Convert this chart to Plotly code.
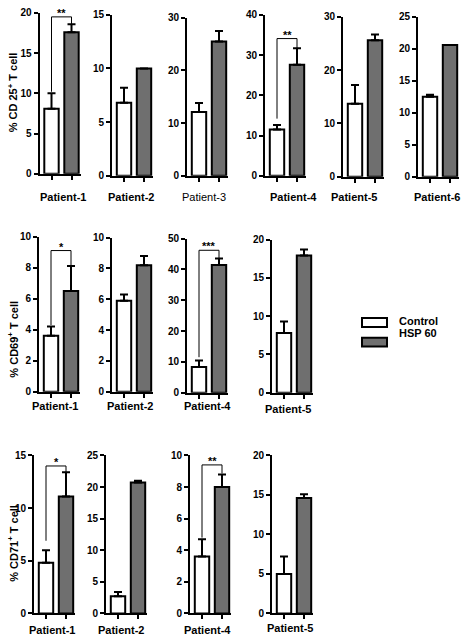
import plotly.graph_objects as go

# ---------------- data ----------------
cd25_patients = ["Patient-1", "Patient-2", "Patient-3", "Patient-4", "Patient-5", "Patient-6"]
cd25_control = [8.1, 6.8, 12.1, 11.5, 13.7, 12.5]
cd25_control_err = [1.9, 1.4, 1.7, 1.1, 3.5, 0.3]
cd25_hsp = [17.6, 10.0, 25.5, 27.6, 25.6, 20.6]
cd25_hsp_err = [1.0, 0.0, 2.0, 4.1, 1.1, 0.0]
cd25_ymax = [20, 15, 30, 40, 30, 25]
cd25_dtick = [5, 5, 10, 10, 10, 5]

cd69_patients = ["Patient-1", "Patient-2", "Patient-4", "Patient-5"]
cd69_control = [3.6, 5.9, 8.3, 7.8]
cd69_control_err = [0.6, 0.4, 2.1, 1.5]
cd69_hsp = [6.5, 8.2, 41.4, 17.9]
cd69_hsp_err = [1.6, 0.6, 2.1, 0.8]
cd69_ymax = [10, 10, 50, 20]
cd69_dtick = [2, 2, 10, 5]

cd71_patients = ["Patient-1", "Patient-2", "Patient-4", "Patient-5"]
cd71_control = [4.8, 2.7, 3.6, 5.0]
cd71_control_err = [1.2, 0.7, 1.1, 2.2]
cd71_hsp = [11.1, 20.7, 8.0, 14.6]
cd71_hsp_err = [2.3, 0.3, 0.8, 0.5]
cd71_ymax = [15, 25, 10, 20]
cd71_dtick = [5, 5, 2, 5]

# significance: row, panel index, label, bracket y, left foot y, right foot y
sig_rows = [0, 0, 1, 1, 2, 2]
sig_panels = [0, 3, 0, 2, 0, 2]
sig_labels = ["**", "**", "*", "***", "*", "**"]
sig_top = [19.5, 34.1, 9.1, 46.2, 14.0, 9.4]
sig_left = [10.2, 14.2, 4.3, 11.5, 6.9, 4.8]
sig_right = [18.6, 31.7, 8.1, 43.5, 13.4, 8.86]

series_names = ["Control", "HSP 60"]
y_titles = ["% CD 25<sup>+</sup> T cell", "% CD69<sup>+</sup> T cell", "% CD71<sup>+</sup> T cell"]

# ---------------- layout geometry (pixels) ----------------
W, H = 462, 642
FONT = "Liberation Sans Narrow, Arial Narrow, Liberation Sans, Arial"
GRAY = "#6f6f6f"

rows = [
    dict(pat=cd25_patients, c=cd25_control, ce=cd25_control_err, h=cd25_hsp, he=cd25_hsp_err,
         ymax=cd25_ymax, dt=cd25_dtick,
         axx=[39.5, 112, 187, 265, 343, 418],
         ytop=[7, 9, 12, 9, 11, 11], ybot=[171, 173, 173, 173, 174, 174],
         labx=[63, 131, 204, 293, 354, 437], laby=[195, 195, 195, 195, 195, 195],
         title_y=88),
    dict(pat=cd69_patients, c=cd69_control, ce=cd69_control_err, h=cd69_hsp, he=cd69_hsp_err,
         ymax=cd69_ymax, dt=cd69_dtick,
         axx=[39, 112, 187, 272],
         ytop=[235, 236, 237, 238], ybot=[393, 393, 394, 394],
         labx=[55, 130, 207, 288], laby=[408, 408, 408, 411],
         title_y=340),
    dict(pat=cd71_patients, c=cd71_control, ce=cd71_control_err, h=cd71_hsp, he=cd71_hsp_err,
         ymax=cd71_ymax, dt=cd71_dtick,
         axx=[34, 106, 190, 272],
         ytop=[458, 458, 458, 458], ybot=[619, 619, 619, 619],
         labx=[52, 121, 207, 290], laby=[636, 636, 636, 634],
         title_y=548),
]

XR = [-0.6, 1.45]
UNIT = 20.0
PW = (XR[1] - XR[0]) * UNIT

fig = go.Figure()
layout = dict(width=W, height=H, margin=dict(l=0, r=0, t=0, b=0),
              paper_bgcolor="white", plot_bgcolor="white", showlegend=False,
              bargap=0.28)
annotations = []
shapes = []

axis_font = dict(family=FONT, size=10, color="black", weight="bold")

k = 0
panel_axes = {}
for ri, r in enumerate(rows):
    for pi, pat in enumerate(r["pat"]):
        k += 1
        xa = "x" if k == 1 else f"x{k}"
        ya = "y" if k == 1 else f"y{k}"
        xkey = "xaxis" if k == 1 else f"xaxis{k}"
        ykey = "yaxis" if k == 1 else f"yaxis{k}"
        panel_axes[(ri, pi)] = (xa, ya)
        ax = r["axx"][pi]
        layout[xkey] = dict(domain=[ax / W, (ax + PW) / W], range=XR, anchor=ya,
                            showline=True, linecolor="black", linewidth=2,
                            tickvals=[0, 1], showticklabels=False, ticks="outside",
                            ticklen=4, tickwidth=2, tickcolor="black",
                            showgrid=False, zeroline=False, fixedrange=True)
        layout[ykey] = dict(domain=[(H - r["ybot"][pi]) / H, (H - r["ytop"][pi]) / H],
                            range=[0, r["ymax"][pi]], dtick=r["dt"][pi], tick0=0,
                            anchor=xa, showline=True, linecolor="black", linewidth=2,
                            ticks="outside", ticklen=4, tickwidth=2, tickcolor="black",
                            tickfont=axis_font, showgrid=False, zeroline=False,
                            fixedrange=True)
        vals = [r["c"][pi], r["h"][pi]]
        errs = [r["ce"][pi], r["he"][pi]]
        for si in range(2):
            fig.add_trace(go.Bar(
                x=[si], y=[vals[si]], width=0.72, name=series_names[si],
                xaxis=xa, yaxis=ya,
                marker=dict(color="white" if si == 0 else GRAY,
                            line=dict(color="black", width=2)),
                error_y=dict(type="data", symmetric=False, array=[errs[si]], arrayminus=[0],
                             color="black", thickness=2, width=4, visible=True),
            ))
        lab_font = dict(family=FONT, size=11, color="black",
                        weight="normal" if pat == "Patient-3" and ri == 0 else "bold")
        annotations.append(dict(text=pat, x=r["labx"][pi] / W, y=(H - r["laby"][pi]) / H,
                                xref="paper", yref="paper", showarrow=False,
                                xanchor="center", yanchor="middle", font=lab_font))
    annotations.append(dict(text=y_titles[ri], x=13 / W, y=(H - r["title_y"]) / H,
                            xref="paper", yref="paper", showarrow=False, textangle=-90,
                            xanchor="center", yanchor="middle",
                            font=dict(family=FONT, size=11, color="black", weight="bold")))

# significance brackets
for i in range(len(sig_labels)):
    xa, ya = panel_axes[(sig_rows[i], sig_panels[i])]
    shapes.append(dict(type="path", xref=xa, yref=ya,
                       path=f"M 0,{sig_left[i]} L 0,{sig_top[i]} L 1,{sig_top[i]} L 1,{sig_right[i]}",
                       line=dict(color="black", width=1)))
    annotations.append(dict(text=sig_labels[i], x=0.5, y=sig_top[i], xref=xa, yref=ya,
                            showarrow=False, xanchor="center", yanchor="bottom", yshift=-4,
                            font=dict(family=FONT, size=11, color="black", weight="bold")))

# legend (boxes + text)
leg_boxes_y = [(318, 327), (338, 347)]
leg_text_y = [321.5, 333]
for si in range(2):
    y0, y1 = leg_boxes_y[si]
    shapes.append(dict(type="rect", xref="paper", yref="paper",
                       x0=362 / W, x1=387 / W, y0=(H - y1) / H, y1=(H - y0) / H,
                       fillcolor="white" if si == 0 else GRAY,
                       line=dict(color="black", width=2)))
    annotations.append(dict(text=series_names[si], x=397 / W, y=(H - leg_text_y[si]) / H,
                            xref="paper", yref="paper", showarrow=False,
                            xanchor="left", yanchor="middle",
                            font=dict(family=FONT, size=11, color="black", weight="bold")))

layout["annotations"] = annotations
layout["shapes"] = shapes
fig.update_layout(**layout)
fig.write_html("out.html", config={"displayModeBar": False},
               post_script="document.body.style.margin='0';document.body.style.overflow='hidden';")
